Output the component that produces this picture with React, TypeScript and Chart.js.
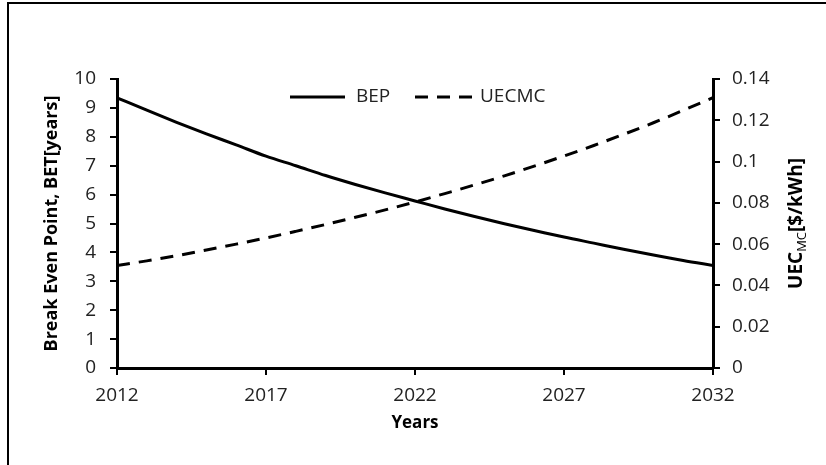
import React, { useEffect, useRef } from "react";
import { Chart, registerables } from "chart.js";

Chart.register(...registerables);

const years = [2012, 2013, 2014, 2015, 2016, 2017, 2018, 2019, 2020, 2021, 2022, 2023, 2024, 2025, 2026, 2027, 2028, 2029, 2030, 2031, 2032];
const bepValues = [9.35, 8.92, 8.5, 8.1, 7.72, 7.33, 7.0, 6.66, 6.35, 6.06, 5.78, 5.5, 5.24, 4.99, 4.76, 4.53, 4.32, 4.11, 3.91, 3.72, 3.55];
const uecValues = [0.0497, 0.0519, 0.0544, 0.0572, 0.06, 0.063, 0.0662, 0.0695, 0.073, 0.0766, 0.0804, 0.0845, 0.0887, 0.0931, 0.0978, 0.1027, 0.1078, 0.1132, 0.1188, 0.1248, 0.131];
const xTicks = [2012, 2017, 2022, 2027, 2032];
const leftTicks = [0, 1, 2, 3, 4, 5, 6, 7, 8, 9, 10];
const rightTicks = [0, 0.02, 0.04, 0.06, 0.08, 0.1, 0.12, 0.14];
const seriesNames = ["BEP", "UECMC"];

const FONT = "'Open Sans', 'DejaVu Sans', sans-serif";
const TICK_SIZE = 19;

const decorPlugin = {
  id: "decor",
  afterDraw(chart: any) {
    const ctx = chart.ctx;
    ctx.save();
    ctx.strokeStyle = "#000";
    ctx.lineWidth = 2;
    ctx.beginPath();
    ctx.moveTo(8, 465);
    ctx.lineTo(8, 3);
    ctx.lineTo(826, 3);
    ctx.stroke();

    ctx.lineWidth = 3;
    ctx.setLineDash([]);
    ctx.beginPath();
    ctx.moveTo(290, 97);
    ctx.lineTo(345, 97);
    ctx.stroke();
    ctx.setLineDash([13, 9]);
    ctx.beginPath();
    ctx.moveTo(415, 97);
    ctx.lineTo(473, 97);
    ctx.stroke();
    ctx.setLineDash([]);
    ctx.fillStyle = "#222";
    ctx.font = `${TICK_SIZE}px ${FONT}`;
    ctx.textAlign = "left";
    ctx.textBaseline = "middle";
    ctx.fillText(seriesNames[0], 356, 97);
    ctx.fillText(seriesNames[1], 480, 97);

    const ca = chart.chartArea;
    const midY = (ca.top + ca.bottom) / 2;

    ctx.fillStyle = "#000";
    ctx.font = `bold 17px ${FONT}`;
    ctx.textAlign = "center";
    ctx.fillText("Years", (ca.left + ca.right) / 2, 423);

    ctx.save();
    ctx.translate(52, midY);
    ctx.rotate(-Math.PI / 2);
    ctx.font = `bold 18px ${FONT}`;
    ctx.textAlign = "center";
    ctx.fillText("Break Even Point, BET[years]", 0, 0);
    ctx.restore();

    ctx.save();
    ctx.translate(797, midY);
    ctx.rotate(-Math.PI / 2);
    const p1 = "UEC";
    const p2 = "MC";
    const p3 = "[$/kWh]";
    const big = `bold 19px ${FONT}`;
    const small = `13px ${FONT}`;
    ctx.font = big;
    const w1 = ctx.measureText(p1).width;
    const w3 = ctx.measureText(p3).width;
    ctx.font = small;
    const w2 = ctx.measureText(p2).width;
    const total = w1 + w2 + w3;
    let x = -total / 2;
    ctx.textAlign = "left";
    ctx.font = big;
    ctx.fillText(p1, x, 0);
    x += w1;
    ctx.font = small;
    ctx.fillText(p2, x, 5);
    x += w2;
    ctx.font = big;
    ctx.fillText(p3, x, 0);
    ctx.restore();

    ctx.restore();
  },
};

export default function App() {
  const ref = useRef<HTMLCanvasElement | null>(null);
  useEffect(() => {
    if (!ref.current) return;
    const chart = new Chart(ref.current, {
      type: "line",
      data: {
        datasets: [
          {
            label: seriesNames[0],
            data: years.map((y, i) => ({ x: y, y: bepValues[i] })),
            borderColor: "#000",
            borderWidth: 3,
            pointRadius: 0,
            cubicInterpolationMode: "monotone",
            yAxisID: "y",
          },
          {
            label: seriesNames[1],
            data: years.map((y, i) => ({ x: y, y: uecValues[i] })),
            borderColor: "#000",
            borderWidth: 3,
            borderDash: [13, 9],
            pointRadius: 0,
            cubicInterpolationMode: "monotone",
            yAxisID: "y1",
          },
        ],
      },
      options: {
        responsive: false,
        animation: false,
        devicePixelRatio: 1,
        layout: { padding: { top: 79, left: 0, right: 0, bottom: 0 } },
        plugins: { legend: { display: false }, tooltip: { enabled: false } },
        scales: {
          x: {
            type: "linear",
            min: 2012,
            max: 2032,
            afterBuildTicks: (s: any) => {
              s.ticks = xTicks.map((v) => ({ value: v }));
            },
            afterFit: (s: any) => {
              s.height = 97;
            },
            ticks: {
              color: "#222",
              font: { family: FONT, size: TICK_SIZE },
              padding: 9,
              callback: (v: any) => String(v),
              maxRotation: 0,
            },
            grid: { drawOnChartArea: false, tickLength: 7, color: "#000", lineWidth: 2 },
            border: { color: "#000", width: 3 },
          },
          y: {
            position: "left",
            min: 0,
            max: 10,
            afterBuildTicks: (s: any) => {
              s.ticks = leftTicks.map((v) => ({ value: v }));
            },
            afterFit: (s: any) => {
              s.width = 117;
            },
            ticks: { color: "#222", font: { family: FONT, size: TICK_SIZE }, padding: 14 },
            grid: { drawOnChartArea: false, tickLength: 7, color: "#000", lineWidth: 2 },
            border: { color: "#000", width: 3 },
          },
          y1: {
            position: "right",
            min: 0,
            max: 0.14,
            afterBuildTicks: (s: any) => {
              s.ticks = rightTicks.map((v) => ({ value: v }));
            },
            afterFit: (s: any) => {
              s.width = 113;
            },
            ticks: {
              color: "#222",
              font: { family: FONT, size: TICK_SIZE },
              padding: 12,
              callback: (v: any) => String(Math.round(v * 100) / 100),
            },
            grid: { drawOnChartArea: false, tickLength: 7, color: "#000", lineWidth: 2 },
            border: { color: "#000", width: 3 },
          },
        },
      },
      plugins: [decorPlugin],
    });
    return () => chart.destroy();
  }, []);
  return (
    <div style={{ position: "absolute", left: 0, top: 0, width: 826, height: 465, background: "#fff" }}>
      <canvas ref={ref} width={826} height={465} />
    </div>
  );
}
